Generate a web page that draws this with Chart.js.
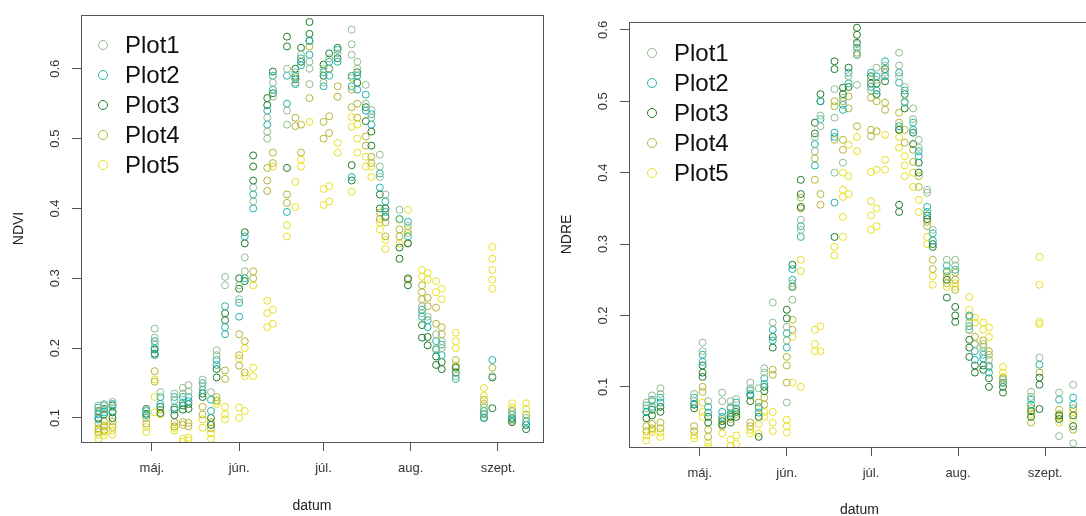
<!DOCTYPE html>
<html lang="hu">
<head>
<meta charset="UTF-8">
<title>NDVI és NDRE parcellánként</title>
<script src="https://cdn.jsdelivr.net/npm/chart.js"></script>
<style>
  html, body { margin: 0; padding: 0; background: #fff; overflow: hidden; }
  #wrap { position: relative; width: 1086px; height: 516px; overflow: hidden; }
  .panel { position: absolute; top: 0; width: 548px; height: 516px; }
  #left { left: 0; }
  #right { left: 548px; }
</style>
</head>
<body>
<div id="wrap">
  <div class="panel" id="left"><canvas id="ndvi" width="548" height="516"></canvas></div>
  <div class="panel" id="right"><canvas id="ndre" width="548" height="516"></canvas></div>
</div>

<script>
// mérési napok (az év napja), oszloponként
const dates = [102, 104, 107, 119, 122, 124, 129, 132, 134, 139, 142, 144, 147, 152,
  154, 157, 162, 164, 169, 172, 174, 177, 182, 184, 187, 192, 194, 197, 199, 202,
  204, 209, 212, 217, 219, 222, 224, 229, 239, 242, 249, 254];

// hónapok eleje a tengelyen
const monthDays = [121, 152, 182, 213, 244];
const monthLabels = ['máj.', 'jún.', 'júl.', 'aug.', 'szept.'];

const plotNames = ['Plot1', 'Plot2', 'Plot3', 'Plot4', 'Plot5'];
const yTicks = [0.1, 0.2, 0.3, 0.4, 0.5, 0.6];

// NDVI, oszloponként az egyes mérések
const ndviPlot1 = [
  [0.118,0.108], [0.12,0.112], [0.123,0.115], [0.112], [0.228,0.215,0.205], [0.137],
  [0.135,0.125], [0.143,0.135], [0.147,0.138], [0.155,0.145], [0.137], [0.197,0.19],
  [0.302,0.29], [0.29,0.27], [0.33,0.31], [0.43,0.41], [0.53,0.51,0.5], [0.58,0.56],
  [0.6,0.54,0.52], [0.595,0.58], [0.62], [0.61,0.6,0.578], [0.6,0.58], [0.615,0.6],
  [0.622], [0.656,0.635,0.62], [0.61,0.6], [0.577,0.55], [0.541,0.53], [0.477,0.46,0.445],
  [0.42], [0.398], [0.375], [0.26,0.25], [0.245], [0.22,0.2],
  [0.21,0.2], [0.16], [0.115,0.105], [0.16], [0.11], [0.1]
];
const ndviPlot2 = [
  [0.115,0.105,0.098], [0.118,0.108], [0.12,0.11], [0.11,0.104], [0.21,0.2,0.19], [0.13,0.12],
  [0.13,0.115], [0.13,0.122], [0.13,0.124], [0.15,0.14], [0.126,0.11], [0.183,0.176],
  [0.26,0.23,0.22], [0.265,0.245], [0.36,0.3], [0.42,0.4], [0.54,0.52], [0.59,0.57],
  [0.59,0.55,0.395], [0.59,0.578], [0.615,0.605], [0.62,0.64], [0.595,0.575], [0.61,0.59],
  [0.627,0.61], [0.59,0.575,0.445], [0.59,0.57], [0.563,0.54], [0.535,0.52], [0.45,0.43],
  [0.41,0.395], [0.385], [0.381,0.36], [0.255,0.245], [0.24,0.23], [0.21,0.198],
  [0.205,0.19], [0.156], [0.11,0.1], [0.183], [0.105,0.098], [0.095,0.09]
];
const ndviPlot3 = [
  [0.11,0.1], [0.113,0.105], [0.118,0.108,0.1], [0.113,0.106], [0.198,0.192], [0.116,0.107],
  [0.112,0.104], [0.118,0.112], [0.12,0.113], [0.135,0.13], [0.1,0.09], [0.17,0.158],
  [0.25,0.24], [0.3,0.285], [0.366,0.35,0.296], [0.476,0.46,0.44], [0.558,0.548], [0.596,0.565],
  [0.646,0.632,0.458], [0.6,0.585], [0.63,0.61], [0.667,0.65,0.64], [0.606,0.59], [0.622,0.6],
  [0.63,0.615], [0.462,0.44], [0.595,0.58], [0.545,0.525], [0.51,0.49], [0.42,0.4],
  [0.4,0.388], [0.344,0.328], [0.35,0.3,0.29], [0.233,0.215], [0.216,0.204], [0.188,0.176],
  [0.18,0.17], [0.172,0.165], [0.106,0.1], [0.158,0.114], [0.1,0.094], [0.09,0.084]
];
const ndviPlot4 = [
  [0.092,0.085,0.08], [0.095,0.088,0.082], [0.095,0.087], [0.1,0.092], [0.167,0.152], [0.112],
  [0.094,0.088], [0.094,0.09], [0.093,0.088], [0.116,0.105], [0.094,0.085], [0.13,0.125],
  [0.168,0.156], [0.22,0.19,0.175], [0.21,0.165], [0.31,0.3], [0.458,0.44,0.425], [0.48,0.465],
  [0.42,0.408], [0.588,0.53,0.518], [0.52,0.48], [0.632,0.558], [0.524,0.5], [0.532,0.508],
  [0.575,0.56], [0.587,0.57,0.545], [0.55,0.53], [0.503,0.49], [0.474,0.465], [0.394,0.385],
  [0.38,0.36], [0.37,0.36], [0.365,0.35,0.298], [0.29,0.28,0.27], [0.272,0.26], [0.258,0.235],
  [0.23,0.22], [0.183,0.175], [0.126,0.12], [0.172], [0.11,0.096], [0.105]
];
const ndviPlot5 = [
  [0.083,0.076,0.07], [0.09,0.08,0.075], [0.09,0.082,0.076], [0.087,0.08], [0.155,0.13,0.108], [0.105],
  [0.086,0.082], [0.07,0.066], [0.072,0.068], [0.098,0.086], [0.078,0.07], [0.124,0.12],
  [0.116,0.105,0.098], [0.185,0.115,0.1], [0.2,0.16,0.11], [0.29,0.172,0.16], [0.268,0.25,0.23], [0.46,0.255,0.235],
  [0.376,0.36], [0.438,0.402], [0.47,0.46], [0.524], [0.428,0.405], [0.432,0.41],
  [0.494,0.48], [0.531,0.517,0.424], [0.52,0.5,0.48], [0.474,0.46], [0.46,0.445], [0.38,0.37],
  [0.355,0.342], [0.384,0.35], [0.398,0.37], [0.312,0.302], [0.308,0.298], [0.296,0.28],
  [0.285,0.27], [0.222,0.21,0.2], [0.143,0.132], [0.345,0.328,0.312,0.298,0.285], [0.121,0.115], [0.121,0.113]
];

// NDRE
const ndrePlot1 = [
  [0.078,0.07], [0.088,0.08], [0.098,0.09], [0.09,0.08], [0.162,0.15], [0.08],
  [0.092,0.08], [0.08,0.072], [0.083], [0.106,0.098], [0.098], [0.126,0.12],
  [0.218,0.19], [0.184,0.165,0.078], [0.245,0.222], [0.334,0.32], [0.45,0.43], [0.48,0.465],
  [0.517,0.477,0.4], [0.505,0.414], [0.535], [0.58,0.565,0.523], [0.53,0.515], [0.547,0.53],
  [0.55,0.54], [0.568,0.55,0.535], [0.52,0.5], [0.49,0.475], [0.446,0.435], [0.376,0.372],
  [0.32], [0.278], [0.278,0.27], [0.19,0.18], [0.16], [0.156,0.15],
  [0.138,0.13], [0.11], [0.093,0.086], [0.141], [0.092,0.031], [0.103,0.021]
];
const ndrePlot2 = [
  [0.074,0.065], [0.082,0.072], [0.085,0.078], [0.085,0.076], [0.145,0.135], [0.072,0.064],
  [0.065,0.058], [0.07,0.063], [0.078,0.07], [0.095,0.09], [0.072,0.064], [0.112,0.104],
  [0.18,0.165], [0.175,0.155], [0.265,0.25], [0.325,0.31], [0.44,0.41], [0.5,0.475],
  [0.456,0.45,0.358], [0.495,0.488], [0.54,0.525], [0.575,0.565], [0.54,0.52], [0.535,0.515],
  [0.556,0.535], [0.54,0.526,0.465], [0.515,0.498], [0.47,0.46], [0.43,0.423], [0.352,0.345],
  [0.315,0.305], [0.27,0.262], [0.264], [0.2,0.185], [0.15,0.138], [0.145,0.14],
  [0.128,0.12], [0.106], [0.082,0.075], [0.131], [0.082], [0.085,0.075]
];
const ndrePlot3 = [
  [0.065,0.056], [0.068,0.06], [0.072,0.065], [0.075,0.07], [0.13,0.12,0.114], [0.058,0.05],
  [0.052,0.047], [0.058,0.05], [0.065,0.058], [0.088,0.08], [0.058,0.03], [0.1,0.094],
  [0.17,0.155], [0.208,0.196], [0.271,0.24], [0.39,0.37,0.352], [0.47,0.455], [0.51,0.5],
  [0.556,0.545,0.31], [0.519,0.51], [0.547,0.52], [0.603,0.593,0.582], [0.535,0.525], [0.525,0.51],
  [0.545,0.528], [0.46,0.355,0.345], [0.51,0.49], [0.456,0.44], [0.414,0.4], [0.34,0.335],
  [0.3,0.296], [0.25,0.225], [0.212,0.2,0.191], [0.166,0.155,0.142], [0.13,0.12], [0.13,0.124],
  [0.112,0.1], [0.1,0.092], [0.066,0.058], [0.113,0.103,0.069], [0.06,0.055], [0.06,0.045]
];
const ndrePlot4 = [
  [0.045,0.038], [0.048,0.042], [0.05,0.042], [0.045,0.038], [0.1,0.093], [0.04,0.03],
  [0.055,0.045], [0.06,0.055], [0.068,0.062], [0.05,0.045], [0.078,0.07], [0.085,0.075],
  [0.124,0.117], [0.142,0.13,0.106], [0.194,0.18], [0.365,0.35], [0.42,0.39], [0.37,0.355],
  [0.5,0.493,0.446], [0.5,0.446,0.432], [0.507,0.49], [0.568,0.465], [0.505,0.46,0.451], [0.5,0.458],
  [0.498,0.488], [0.484,0.47,0.46], [0.46,0.442], [0.432,0.415], [0.395,0.38], [0.331,0.325],
  [0.278,0.265], [0.255,0.245], [0.26,0.25,0.236], [0.198,0.18], [0.17,0.16], [0.165,0.16],
  [0.15,0.145], [0.112,0.105], [0.07,0.05], [0.12], [0.068,0.062], [0.07,0.04]
];
const ndrePlot5 = [
  [0.032,0.025], [0.04,0.037], [0.036,0.03], [0.032,0.028], [0.078,0.065,0.058], [0.022,0.016],
  [0.035], [0.026,0.018], [0.032,0.02], [0.04,0.035], [0.048,0.035], [0.065,0.058],
  [0.065,0.05,0.038], [0.054,0.045,0.036], [0.17,0.106], [0.278,0.262,0.1], [0.18,0.16,0.15], [0.185,0.15],
  [0.296,0.284], [0.4,0.376,0.366,0.338,0.31], [0.439,0.395,0.37], [0.45,0.43], [0.401,0.36,0.34,0.32], [0.404,0.35,0.325],
  [0.453,0.418,0.404], [0.45,0.435], [0.423,0.41,0.395], [0.4,0.38], [0.362,0.345], [0.31,0.3],
  [0.255,0.243], [0.26,0.24], [0.245,0.24], [0.226,0.208], [0.197,0.19], [0.19,0.18],
  [0.183,0.17], [0.128,0.12,0.114], [0.075,0.062], [0.282,0.243,0.191,0.188], [0.058,0.05], [0.065,0.055]
];

const plotColors = ['#8fbc8f', '#20b2aa', '#1e7b2a', '#b5b535', '#e8e020'];
const FONT = '"Liberation Sans", Arial, sans-serif';

function toPoints(cols) {
  const pts = [];
  cols.forEach((vals, i) => vals.forEach(v => pts.push({ x: dates[i], y: v })));
  return pts;
}

// doboz, elforgatott y feliratok, jelmagyarázat (R-stílus)
const rStyle = {
  id: 'rStyle',
  afterDraw(chart) {
    const ctx = chart.ctx, a = chart.chartArea, ys = chart.scales.y;
    ctx.save();
    ctx.strokeStyle = '#555';
    ctx.lineWidth = 1;
    ctx.strokeRect(a.left + 0.5, a.top + 0.5, a.right - a.left, a.bottom - a.top);

    ctx.fillStyle = '#333';
    ctx.font = '13px ' + FONT;
    ctx.textAlign = 'center';
    ctx.textBaseline = 'middle';
    ys.ticks.forEach(t => {
      ctx.save();
      ctx.translate(a.left - 26, ys.getPixelForValue(t.value));
      ctx.rotate(-Math.PI / 2);
      ctx.fillText(t.value.toFixed(1), 0, 0);
      ctx.restore();
    });

    const lg = chart.options.plugins.rStyle;
    ctx.font = '24px ' + FONT;
    ctx.textAlign = 'left';
    plotNames.forEach((name, i) => {
      const cy = a.top + lg.dy + i * 30;
      ctx.beginPath();
      ctx.arc(a.left + lg.dx, cy, 4.5, 0, Math.PI * 2);
      ctx.strokeStyle = plotColors[i];
      ctx.stroke();
      ctx.fillStyle = '#111';
      ctx.fillText(name, a.left + lg.dx + 22, cy + 1);
    });
    ctx.restore();
  }
};

function makeChart(id, series, yLabel, yMin, yMax, pad, xHeight, titleBottom, legendPos) {
  return new Chart(document.getElementById(id), {
    type: 'scatter',
    data: {
      datasets: series.map((s, i) => ({
        label: plotNames[i],
        data: toPoints(s),
        borderColor: plotColors[i],
        backgroundColor: 'rgba(0,0,0,0)',
        borderWidth: 1,
        pointRadius: 3.5,
        pointStyle: 'circle'
      }))
    },
    options: {
      responsive: false,
      animation: false,
      events: [],
      layout: { padding: pad },
      plugins: {
        legend: { display: false },
        tooltip: { enabled: false },
        rStyle: legendPos
      },
      scales: {
        x: {
          type: 'linear',
          min: 95.8,
          max: 260,
          afterBuildTicks: s => { s.ticks = monthDays.map(v => ({ value: v })); },
          afterFit: s => { s.height = xHeight; },
          ticks: {
            callback: v => monthLabels[monthDays.indexOf(v)],
            font: { family: FONT, size: 13 },
            color: '#333',
            padding: 10,
            maxRotation: 0,
            autoSkip: false
          },
          grid: { drawOnChartArea: false, tickLength: 9, color: '#555' },
          border: { display: true, color: '#555' },
          title: {
            display: true,
            text: 'datum',
            font: { family: FONT, size: 14, lineHeight: 0.8 },
            color: '#222',
            padding: { top: 0, bottom: titleBottom }
          }
        },
        y: {
          min: yMin,
          max: yMax,
          afterBuildTicks: s => { s.ticks = yTicks.map(v => ({ value: v })); },
          afterFit: s => { s.width = 81; },
          ticks: { display: false },
          grid: { drawOnChartArea: false, tickLength: 9, color: '#555' },
          border: { display: true, color: '#555' },
          title: {
            display: true,
            text: yLabel,
            font: { family: FONT, size: 14, lineHeight: 0.8 },
            color: '#222',
            padding: { top: 14, bottom: 0 }
          }
        }
      }
    },
    plugins: [rStyle]
  });
}

makeChart('ndvi', [ndviPlot1, ndviPlot2, ndviPlot3, ndviPlot4, ndviPlot5], 'NDVI',
  0.0656, 0.677, { left: 0, top: 15, right: 5, bottom: 0 }, 74, 4, { dx: 22, dy: 30 });
makeChart('ndre', [ndrePlot1, ndrePlot2, ndrePlot3, ndrePlot4, ndrePlot5], 'NDRE',
  0.0158, 0.611, { left: 0, top: 22, right: 6, bottom: 0 }, 69, 0, { dx: 23, dy: 31 });
</script>
</body>
</html>
